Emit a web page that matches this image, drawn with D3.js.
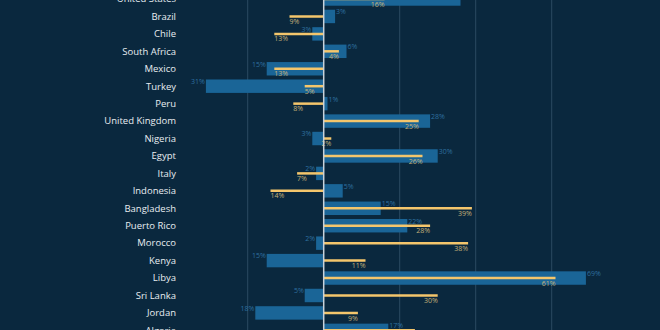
<!DOCTYPE html>
<html>
<head>
<meta charset="utf-8">
<script src="https://cdn.jsdelivr.net/npm/d3@7/dist/d3.min.js"></script>
<style>
  html, body { margin: 0; padding: 0; background: #0a283e; overflow: hidden; }
  svg { display: block; }
</style>
</head>
<body>
<svg id="chart"></svg>
<script>
// countries, top to bottom
var countries = ["United States", "Brazil", "Chile", "South Africa", "Mexico", "Turkey", "Peru",
  "United Kingdom", "Nigeria", "Egypt", "Italy", "Indonesia", "Bangladesh", "Puerto Rico",
  "Morocco", "Kenya", "Libya", "Sri Lanka", "Jordan", "Algeria"];
// blue bars (%)
var barValues = [36, 3, -3, 6, -15, -31, 1, 28, -3, 30, -2, 5, 15, 22, -2, -15, 69, -5, -18, 17];
// yellow lines (%)
var lineValues = [16, -9, -13, 4, -13, -5, -8, 25, 2, 26, -7, -14, 39, 28, 38, 11, 61, 30, 9, 24];
var gridTicks = [-20, 20, 40, 60];

var width = 660, height = 330;
var svg = d3.select("#chart").attr("width", width).attr("height", height);

var rows = countries.map(function (c, i) {
    return {country: c, bar: barValues[i], line: lineValues[i]};
});

var x = d3.scaleLinear().domain([-40, 80]).range([171.7, 627.7]);
var y = d3.scaleBand().domain(countries).range([-9.72, 339.08]).padding(0);
var barH = y.bandwidth() * 0.77;
var fmt = function (v) { return Math.abs(v) + "%"; };

//grid
svg.append("g").selectAll("line").data(gridTicks).join("line")
    .attr("x1", function (d) { return x(d); }).attr("x2", function (d) { return x(d); })
    .attr("y1", 0).attr("y2", height)
    .attr("stroke", "#2c4a62").attr("stroke-width", 1);

//country labels
svg.append("g").selectAll("text").data(rows).join("text")
    .attr("x", 176)
    .attr("y", function (d) { return y(d.country) + y.bandwidth() / 2; })
    .attr("dy", "0.35em")
    .attr("text-anchor", "end")
    .attr("fill", "#e8edf1")
    .attr("font-family", "'Open Sans', sans-serif")
    .attr("font-size", 9.5)
    .attr("font-weight", 500)
    .text(function (d) { return d.country; });

//bars
var bars = svg.append("g");
bars.selectAll("rect").data(rows).join("rect")
    .attr("x", function (d) { return x(Math.min(0, d.bar)); })
    .attr("width", function (d) { return Math.abs(x(d.bar) - x(0)); })
    .attr("y", function (d) { return y(d.country) + (y.bandwidth() - barH) / 2; })
    .attr("height", barH)
    .attr("fill", "#1a6597");
bars.selectAll("text").data(rows).join("text")
    .attr("x", function (d) { return d.bar < 0 ? x(d.bar) - 1 : x(d.bar) + 1; })
    .attr("y", function (d) { return y(d.country) + (y.bandwidth() - barH) / 2 - 1; })
    .attr("dy", "0.8em")
    .attr("text-anchor", function (d) { return d.bar < 0 ? "end" : "start"; })
    .attr("fill", "#2e6f9e")
    .attr("font-family", "'Open Sans', sans-serif")
    .attr("font-size", 7)
    .text(function (d) { return fmt(d.bar); });

//lines
var lines = svg.append("g");
lines.selectAll("line").data(rows).join("line")
    .attr("x1", x(0))
    .attr("x2", function (d) { return x(d.line); })
    .attr("y1", function (d) { return y(d.country) + y.bandwidth() / 2; })
    .attr("y2", function (d) { return y(d.country) + y.bandwidth() / 2; })
    .attr("stroke", "#f4c66c").attr("stroke-width", 2.5);
lines.selectAll("text").data(rows).join("text")
    .attr("x", function (d) { return x(d.line); })
    .attr("y", function (d) { return y(d.country) + y.bandwidth() / 2 + 2; })
    .attr("dy", "0.8em")
    .attr("text-anchor", function (d) { return d.line < 0 ? "start" : "end"; })
    .attr("fill", "#c4b27a")
    .attr("font-family", "'Open Sans', sans-serif")
    .attr("font-size", 7)
    .text(function (d) { return fmt(d.line); });

//zero line
svg.append("line")
    .attr("x1", x(0)).attr("x2", x(0))
    .attr("y1", 0).attr("y2", height)
    .attr("stroke", "#c9d2da").attr("stroke-width", 1.5);
</script>
</body>
</html>
